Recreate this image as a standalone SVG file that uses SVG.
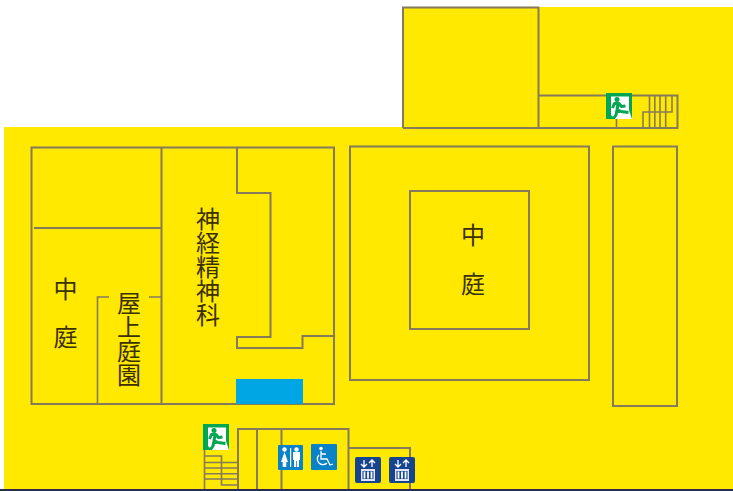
<svg xmlns="http://www.w3.org/2000/svg" width="733" height="491" viewBox="0 0 733 491">
<style>
.w{fill:none;stroke:#857a5c;stroke-width:2}
.s{fill:none;stroke:#857a5c;stroke-width:1.600}
.t{font-family:"Noto Sans CJK JP","Noto Sans CJK SC",sans-serif;font-size:24px;fill:#3a3000;text-anchor:middle}
.wh{fill:#fff}
</style>
<defs>
<g id="exit">
<rect width="26" height="26" fill="#00a651"/>
<path class="wh" d="M5 3.500H23V17L26 26H5Z"/>
<path d="M5 22L9 26H5Z" fill="#00a651"/>
<circle cx="11" cy="6.500" r="2.500" fill="#00a651"/>
<path d="M6.500 15L8.500 10.500H13L15.500 13.500L19.500 13M12 11L11 17L15 18.500M15 18.500L22.500 19.500M11 17L10 22L7.500 25.500" fill="none" stroke="#00a651" stroke-width="3" stroke-linejoin="round"/>
</g>
<g id="lift">
<rect width="26" height="26" rx="2" fill="#17448f"/>
<path d="M9 3V10M6 7L9 10L12 7M17 10V3M14 6L17 3L20 6" fill="none" stroke="#fff" stroke-width="1.300"/>
<rect x="6" y="12" width="14" height="12" fill="#dfe6f2"/>
<rect x="7.500" y="14" width="11" height="8" fill="#17448f"/>
<path d="M9.500 14.500V21.500M13 14.500V21.500M16.500 14.500V21.500" stroke="#fff" stroke-width="1.800"/>
</g>
</defs>
<rect id="floor" x="0" y="0" width="733" height="491" fill="#fff"/>
<path id="plate" d="M4 127H403V7H733V491H4Z" fill="#ffe900"/>
<rect id="base" x="0" y="489" width="733" height="2" fill="#2e2b4f"/>
<g id="connectors">
<path class="w" d="M403 128V7.500H538.500V128M403 128H677.500V95.500H538.500"/>
<path class="s" d="M616.500 119V128M643 128V112H672V96M649.500 96V128M654.800 96V128M660 96V128M665.700 96V128"/>
<path class="w" d="M31.500 147.500H334V404H31.500ZM34 228H161.500M161.500 147.500V404M237 148V193H270.500V337H237V348H302.500V336H334"/>
<path class="s" d="M97.500 404V297H109M149 297H161"/>
<rect class="w" x="350" y="146.500" width="239" height="233.500"/>
<rect class="w" x="410" y="191" width="119" height="138"/>
<rect class="w" x="613" y="146.500" width="64" height="259.500"/>
<path class="w" d="M238 489V429H348.500V489M257 429V489M281.500 429V489M348.500 448H410V489"/>
<path class="s" d="M204.500 450V489M205 456H221.500V485H238M205 462.500H238M205 468H238M205 473.700H238M205 479H238"/>
</g>
<g id="room-blue"><rect x="236" y="379" width="67" height="25" fill="#00a5e3"/></g>
<g id="label-courtyard-left"><text class="t" x="65.500" y="298">中</text><text class="t" x="65.500" y="346">庭</text></g>
<g id="label-roof-garden"><text class="t" x="129" y="312">屋</text><text class="t" x="129" y="336">上</text><text class="t" x="129" y="360">庭</text><text class="t" x="129" y="384">園</text></g>
<g id="label-neuro"><text class="t" x="208" y="228">神</text><text class="t" x="208" y="252">経</text><text class="t" x="208" y="276">精</text><text class="t" x="208" y="300">神</text><text class="t" x="208" y="324">科</text></g>
<g id="label-courtyard-center"><text class="t" x="473" y="244">中</text><text class="t" x="473" y="293">庭</text></g>
<g id="exit-top"><use href="#exit" x="606" y="93"/></g>
<g id="exit-bottom"><use href="#exit" x="203" y="424"/></g>
<g id="toilet">
<rect x="278" y="445" width="25" height="25" rx="1" fill="#0a82c8"/>
<circle cx="284.500" cy="449.500" r="2.200" class="wh"/><path class="wh" d="M284.500 452L288 462H286.300V467H282.700V462H281Z"/>
<rect x="290" y="448" width="1.200" height="19" class="wh"/>
<circle cx="296.500" cy="449.500" r="2.200" class="wh"/><path class="wh" d="M293 452H300V460H299V467H296.900V461H296.100V467H294V460H293Z"/>
</g>
<g id="accessible">
<rect x="311" y="444" width="26" height="26" rx="1" fill="#0a82c8"/>
<circle cx="321" cy="448.500" r="1.800" class="wh"/>
<path d="M321 451V459H327L330 465L333 464M319 455A5.500 5.500 0 1 0 327 463M321 454H326" fill="none" stroke="#fff" stroke-width="1.300"/>
</g>
<g id="lift-1"><use href="#lift" x="355" y="457"/></g>
<g id="lift-2"><use href="#lift" x="389" y="457"/></g>
</svg>
